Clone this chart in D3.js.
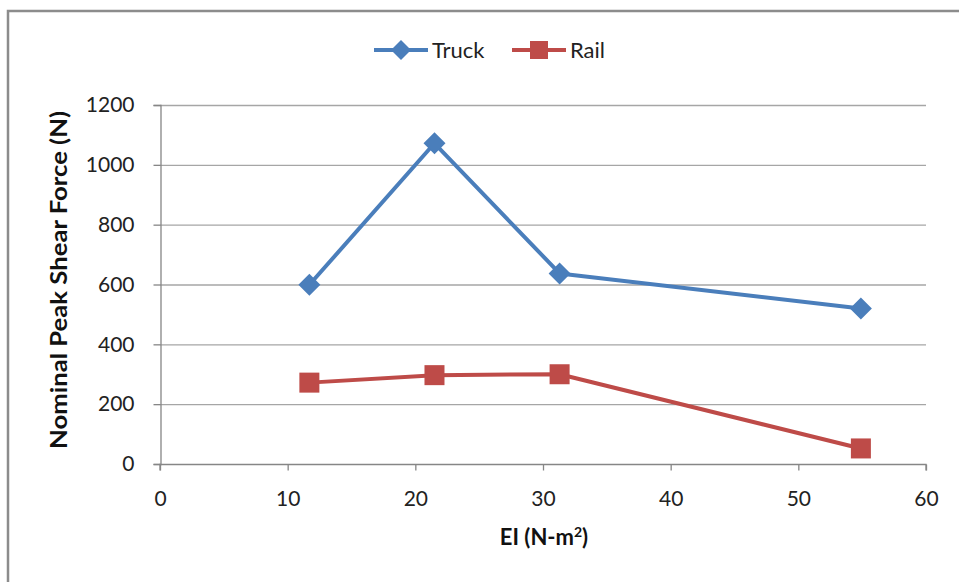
<!DOCTYPE html>
<html><head><meta charset="utf-8">
<script src="https://cdn.jsdelivr.net/npm/d3@7"></script>
<style>body{margin:0;background:#fff}svg{display:block}text{font-family:Lato,"Open Sans",sans-serif}</style>
</head><body><svg id="c" width="959" height="582"></svg>
<script>
const seriesNames = ["Truck", "Rail"];
const truckX = [11.7, 21.5, 31.3, 54.9];
const truckY = [599, 1072, 637, 520];
const railX = [11.7, 21.5, 31.3, 54.9];
const railY = [272, 297, 300, 52];
const xTicks = [0, 10, 20, 30, 40, 50, 60];
const yTicks = [0, 200, 400, 600, 800, 1000, 1200];
const colors = ["#4a7ebb", "#be4b48"];

const svg = d3.select("#c");
// outer border (top and left)
svg.append("path").attr("d","M8,582 V11 H959").attr("fill","none").attr("stroke","#8c8c8c").attr("stroke-width",2.5);

const x = d3.scaleLinear().domain([0,60]).range([160,926]);
const y = d3.scaleLinear().domain([0,1200]).range([464,105]);

// gridlines
svg.append("g").selectAll("line").data(yTicks.filter(d=>d>0)).join("line")
  .attr("x1",160).attr("x2",926).attr("y1",d=>y(d)+0.5).attr("y2",d=>y(d)+0.5)
  .attr("stroke","#a6a6a6").attr("stroke-width",1.3);

// y axis
const ya = svg.append("g").attr("transform","translate(160.5,0)")
  .call(d3.axisLeft(y).tickValues(yTicks).tickSize(7).tickPadding(19).tickFormat(d3.format("d")));
ya.select(".domain").attr("stroke","#868686").attr("stroke-width",1.3);
ya.selectAll(".tick line").attr("stroke","#868686").attr("stroke-width",1.3);
ya.selectAll("text").attr("font-size",21).attr("fill","#222");

// x axis
const xa = svg.append("g").attr("transform","translate(0,464.5)")
  .call(d3.axisBottom(x).tickValues(xTicks).tickSize(6).tickPadding(21).tickFormat(d3.format("d")));
xa.select(".domain").attr("stroke","#868686").attr("stroke-width",1.3).attr("d","M160,6V0H926V6");
xa.selectAll(".tick line").attr("stroke","#868686").attr("stroke-width",1.3);
xa.selectAll("text").attr("font-size",21).attr("fill","#222");

// axis titles
svg.append("text").attr("transform","translate(67,280) rotate(-90)").attr("text-anchor","middle")
  .attr("font-size",22).attr("font-weight","bold").attr("fill","#111")
  .attr("textLength",338).attr("lengthAdjust","spacingAndGlyphs")
  .text("Nominal Peak Shear Force (N)");
const xt = svg.append("text").attr("x",544).attr("y",545).attr("text-anchor","middle")
  .attr("font-size",22).attr("font-weight","bold").attr("fill","#111");
xt.append("tspan").text("EI (N-m");
xt.append("tspan").attr("font-size",14).attr("dy",-8).text("2");
xt.append("tspan").attr("dy",8).text(")");

const line = d3.line().x(d=>x(d[0])).y(d=>y(d[1]));
const truck = truckX.map((v,i)=>[v,truckY[i]]);
const rail = railX.map((v,i)=>[v,railY[i]]);

svg.append("path").datum(truck).attr("d",line).attr("fill","none").attr("stroke",colors[0]).attr("stroke-width",4).attr("stroke-linejoin","round");
svg.append("path").datum(rail).attr("d",line).attr("fill","none").attr("stroke",colors[1]).attr("stroke-width",4).attr("stroke-linejoin","round");

const diamond = s => `M0,${-s}L${s},0L0,${s}L${-s},0Z`;
svg.append("g").selectAll("path").data(truck).join("path")
  .attr("transform",d=>`translate(${x(d[0])},${y(d[1])})`).attr("d",diamond(11)).attr("fill",colors[0]);
svg.append("g").selectAll("rect").data(rail).join("rect")
  .attr("x",d=>x(d[0])-10).attr("y",d=>y(d[1])-10).attr("width",20).attr("height",20).attr("fill",colors[1]);

// legend
const lg = svg.append("g");
lg.append("line").attr("x1",374).attr("x2",428).attr("y1",50).attr("y2",50).attr("stroke",colors[0]).attr("stroke-width",4);
lg.append("path").attr("transform","translate(401,50)").attr("d",diamond(10)).attr("fill",colors[0]);
lg.append("text").attr("x",432).attr("y",58).attr("font-size",22).attr("fill","#222").text(seriesNames[0]);
lg.append("line").attr("x1",512).attr("x2",566).attr("y1",50).attr("y2",50).attr("stroke",colors[1]).attr("stroke-width",4);
lg.append("rect").attr("x",530).attr("y",41).attr("width",18).attr("height",18).attr("fill",colors[1]);
lg.append("text").attr("x",570).attr("y",58).attr("font-size",22).attr("fill","#222").text(seriesNames[1]);
</script></body></html>
